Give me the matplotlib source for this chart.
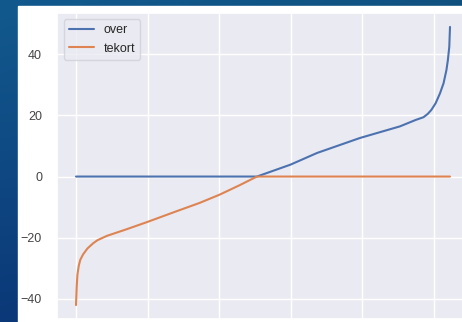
import numpy as np
import matplotlib
matplotlib.use("Agg")
import matplotlib.pyplot as plt
import seaborn as sns
from matplotlib.patches import Rectangle

# ---- data ----
tekort_x = [0, 1, 2, 4, 6, 10, 16, 24, 30, 43, 71, 99, 141, 173, 201, 229, 253, 523]
tekort_y = [-42.0, -36.0, -32.0, -29.0, -27.2, -25.4, -23.5, -21.8, -20.8, -19.4,
            -17.2, -14.9, -11.3, -8.6, -5.9, -2.8, 0.0, 0.0]
over_x = [0, 253, 300, 337, 397, 453, 475, 486, 492, 497, 503, 509, 514, 518, 520, 522, 523]
over_y = [0.0, 0.0, 3.9, 7.7, 12.6, 16.4, 18.5, 19.4, 20.5, 21.8, 24.0, 27.2,
          30.5, 34.8, 38.0, 42.4, 48.9]
labels = ["over", "tekort"]

sns.set_theme(style="darkgrid")
plt.rcParams['font.family'] = ['Liberation Sans', 'DejaVu Sans']

W, H = 462, 322
fig = plt.figure(figsize=(W / 100, H / 100), dpi=100)

# blue screenshot background
bg = fig.add_axes([0, 0, 1, 1], zorder=-10)
yy = np.linspace(0, 1, 200)[:, None]
xx = np.linspace(0, 1, 200)[None, :]
top = np.array([0x12, 0x5a, 0x8e]) / 255
bot = np.array([0x0b, 0x38, 0x78]) / 255
grad = top * (1 - yy[..., None]) + bot * yy[..., None]
grad = grad * (1 - 0.1 * xx[..., None])
bg.imshow(grad, aspect='auto', extent=[0, 1, 0, 1], origin='upper')
bg.add_patch(Rectangle((18 / W, 0), 1, 1 - 6 / H, color='white', transform=bg.transAxes))
bg.set_xlim(0, 1)
bg.set_ylim(0, 1)
bg.axis('off')

ax = fig.add_axes([57.3 / W, 3 / H, 411.4 / W, 306 / H])
ax.plot(over_x, over_y, color='#4C72B0', lw=1.5, label=labels[0])
ax.plot(tekort_x, tekort_y, color='#DD8452', lw=1.5, label=labels[1])
ax.set_ylim(-46.55, 53.45)
ax.set_xlim(-26.15, 549.15)
ax.set_xticks([0, 100, 200, 300, 400, 500])
ax.set_yticks([-40, -20, 0, 20, 40])
ax.tick_params(axis='y', labelsize=9, pad=5, colors='#444444')
ax.tick_params(axis='x', labelbottom=False)
ax.legend(loc='upper left', fontsize=9, facecolor='#eaeaf2', edgecolor='#d0d0d8')

fig.savefig('out.png', dpi=100)
